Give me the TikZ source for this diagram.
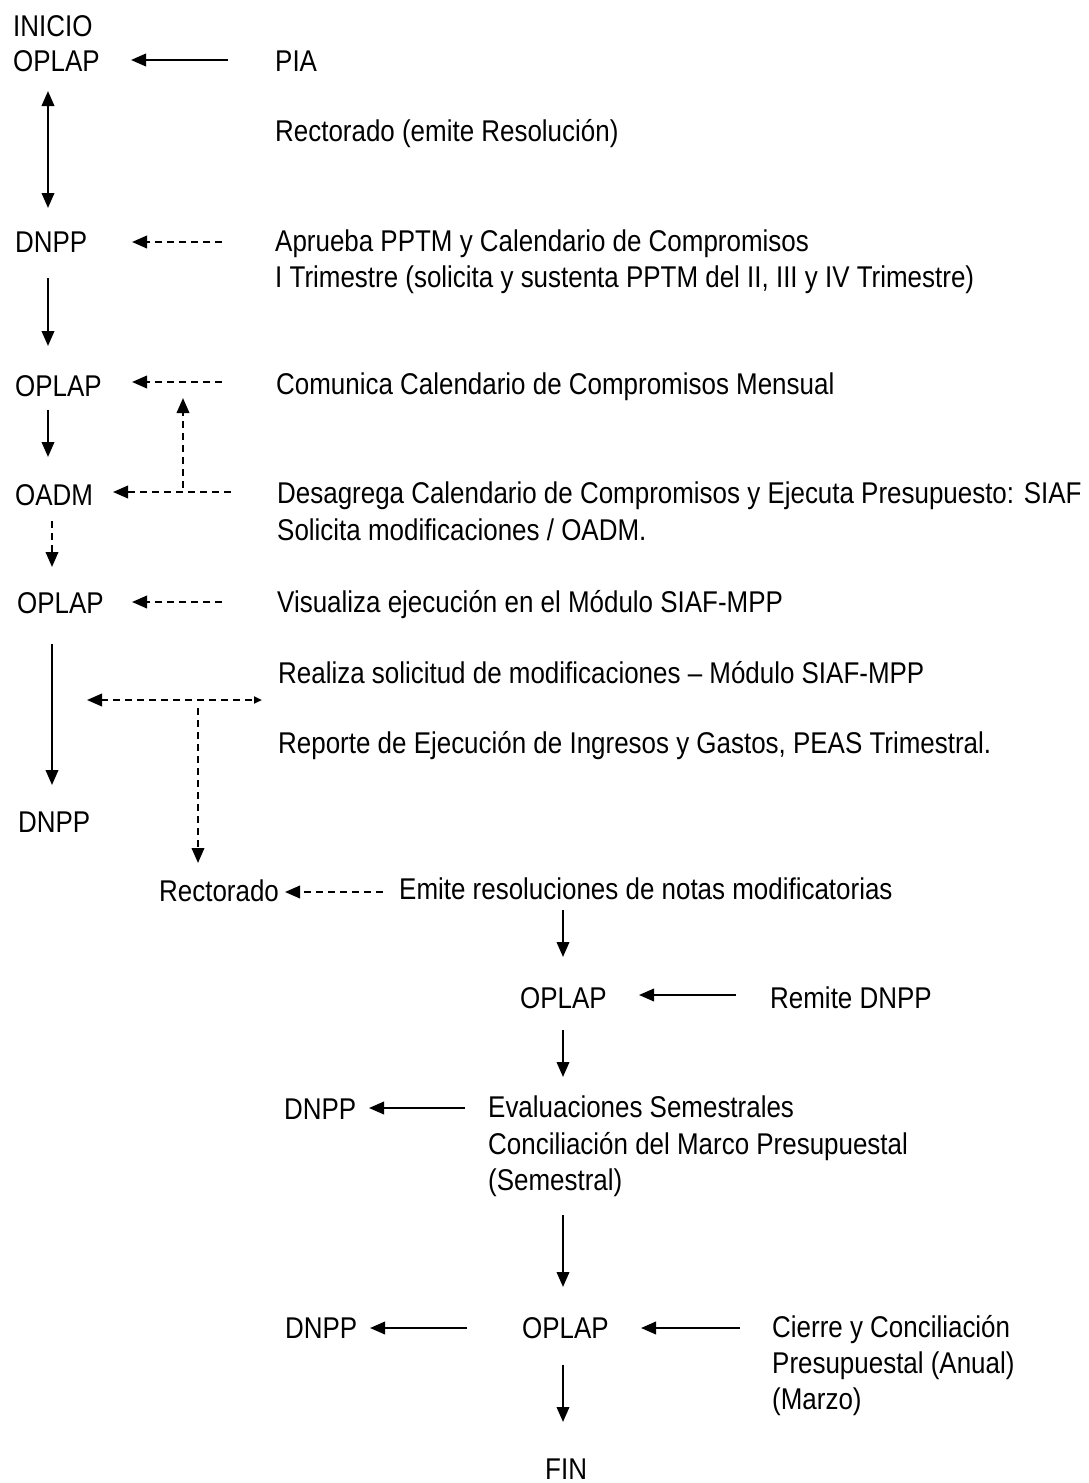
\documentclass[tikz,border=0pt]{standalone}
\usepackage{fontspec}
\setmainfont{Liberation Sans}[FakeStretch=0.865]
\usetikzlibrary{arrows.meta}
\tikzset{
  lbl/.style={anchor=base west, inner sep=0pt, font=\fontsize{30}{37}\selectfont},
  tipA/.tip={Triangle[length=15pt,width=12.5pt]},
  arr/.style={line width=2.1pt, -tipA},
  darr/.style={arr, dash pattern=on 7pt off 5pt},
}
\begin{document}
\begin{tikzpicture}[x=1pt,y=-1pt]
\useasboundingbox[fill=white] (0,0) rectangle (1088,1483);
% texts
\node[lbl] (inicio) at (13,36) {INICIO};
\node[lbl] (oplapA) at (13,71) {OPLAP};
\node[lbl] (pia) at (275,71) {PIA};
\node[lbl] (rect) at (275,141) {Rectorado (emite Resolución)};
\node[lbl] (dnppA) at (15,252) {DNPP};
\node[lbl] (aprueba) at (275,251) {Aprueba PPTM y Calendario de Compromisos};
\node[lbl] (aprueba2) at (275,287) {I Trimestre (solicita y sustenta PPTM del II, III y IV Trimestre)};
\node[lbl] (oplapB) at (15,396) {OPLAP};
\node[lbl] (comunica) at (276,394) {Comunica Calendario de Compromisos Mensual};
\node[lbl] (oadm) at (15,505) {OADM};
\node[lbl] (desag) at (277,503) {Desagrega Calendario de Compromisos y Ejecuta Presupuesto: SIAF};
\node[lbl] (desag2) at (277,540) {Solicita modificaciones / OADM.};
\node[lbl] (oplapC) at (17,613) {OPLAP};
\node[lbl] (visual) at (277,612) {Visualiza ejecución en el Módulo SIAF-MPP};
\node[lbl] (realiza) at (278,683) {Realiza solicitud de modificaciones -- Módulo SIAF-MPP};
\node[lbl] (reporte) at (278,753) {Reporte de Ejecución de Ingresos y Gastos, PEAS Trimestral.};
\node[lbl] (dnppB) at (18,832) {DNPP};
\node[lbl] (rectB) at (159,901) {Rectorado};
\node[lbl] (emite) at (399,899) {Emite resoluciones de notas modificatorias};
\node[lbl] (oplapD) at (520,1008) {OPLAP};
\node[lbl] (remite) at (770,1008) {Remite DNPP};
\node[lbl] (dnppC) at (284,1119) {DNPP};
\node[lbl] (evalu) at (488,1117) {Evaluaciones Semestrales};
\node[lbl] (evalu2) at (488,1154) {Conciliación del Marco Presupuestal};
\node[lbl] (evalu3) at (488,1190) {(Semestral)};
\node[lbl] (dnppD) at (285,1338) {DNPP};
\node[lbl] (oplapE) at (522,1338) {OPLAP};
\node[lbl] (cierre) at (772,1337) {Cierre y Conciliación};
\node[lbl] (cierre2) at (772,1373) {Presupuestal (Anual)};
\node[lbl] (cierre3) at (772,1409) {(Marzo)};
\node[lbl] (fin) at (545,1479) {FIN};
% connectors
\draw[arr] (228,60) -- (131,60);
\draw[line width=2.1pt, tipA-tipA] (48,91) -- (48,208);
\draw[darr] (222,242) -- (132,242);
\draw[arr] (48,278) -- (48,346);
\draw[darr] (222,382) -- (132,382);
\draw[arr] (48,410) -- (48,457);
\draw[darr] (231,492) -- (113,492);
\draw[darr] (183,488) -- (183,398);
\draw[darr] (52,521) -- (52,567);
\draw[darr] (222,602) -- (132,602);
\draw[arr] (52,644) -- (52,785);
\draw[line width=2.1pt, dash pattern=on 7pt off 5pt, tipA-{Triangle[length=8pt,width=7pt]}] (87,700) -- (262,700);
\draw[darr] (198,708) -- (198,863);
\draw[darr] (383,892) -- (285,892);
\draw[arr] (563,910) -- (563,957);
\draw[arr] (736,995) -- (639,995);
\draw[arr] (563,1030) -- (563,1077);
\draw[arr] (465,1108) -- (369,1108);
\draw[arr] (563,1215) -- (563,1287);
\draw[arr] (467,1328) -- (370,1328);
\draw[arr] (740,1328) -- (641,1328);
\draw[arr] (563,1365) -- (563,1422);
\end{tikzpicture}
\end{document}
